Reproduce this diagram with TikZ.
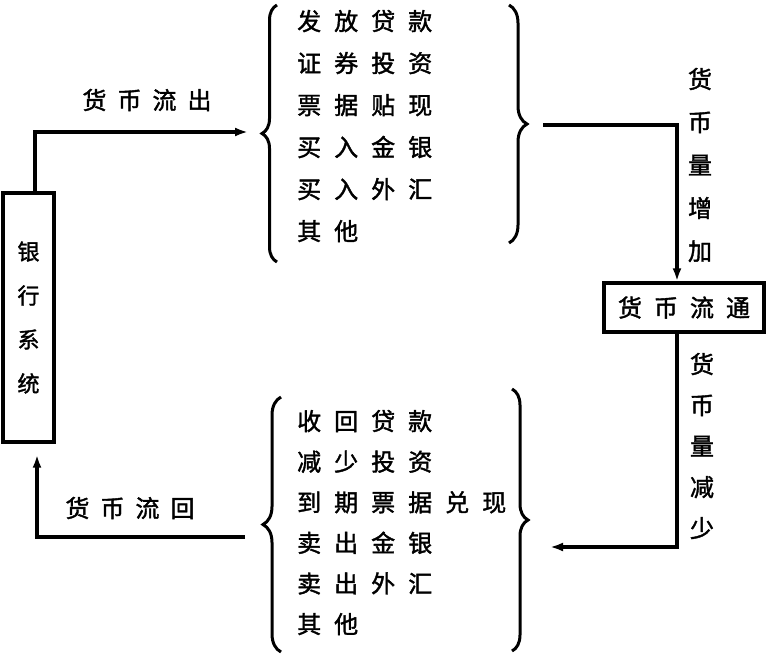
\documentclass[tikz,border=0pt]{standalone}
\usepackage{fontspec}
\newfontfamily\cjk[FakeBold=1.6]{Noto Sans CJK SC}
\usetikzlibrary{arrows.meta,decorations.pathreplacing}
\newcommand\cg{\hspace{13pt}}
\newcommand\cgl{\hspace{11pt}}
\newcommand\cgw{\hspace{12pt}}
\begin{document}
\begin{tikzpicture}[x=1pt,y=-1pt,
  arr/.style={line width=3.2pt, -{Latex[length=13pt,width=9pt]}},
  brc/.style={decorate,decoration={brace,amplitude=#1},line width=3pt},
  txt/.style={font=\cjk\fontsize{24}{42}\selectfont, inner sep=0pt, align=left},
  lab/.style={font=\cjk\fontsize{24}{28}\selectfont, inner sep=0pt},
  vlab/.style={font=\cjk\fontsize{24}{43}\selectfont, inner sep=0pt, align=center},
  box/.style={draw, line width=3.4pt, inner sep=0pt}]
\useasboundingbox (0,0) rectangle (767,654);

% boxes
\node[box, minimum width=51pt, minimum height=249pt, align=center,
      font=\cjk\fontsize{22}{44}\selectfont] (bank) at (28.5,317.5) {银\\行\\系\\统};
\node[box, minimum width=160pt, minimum height=49pt,
      font=\cjk\fontsize{24}{28}\selectfont] (flow) at (684,307.5) {货\cgw{}币\cgw{}流\cgw{}通};

% lists
\node[txt, anchor=west] (outlist) at (297,126) {发\cg{}放\cg{}贷\cg{}款\\证\cg{}券\cg{}投\cg{}资\\票\cg{}据\cg{}贴\cg{}现\\买\cg{}入\cg{}金\cg{}银\\买\cg{}入\cg{}外\cg{}汇\\其\cg{}他};
\node[txt, anchor=west, font=\cjk\fontsize{24}{40.6}\selectfont] (inlist) at (297,522.5) {收\cg{}回\cg{}贷\cg{}款\\减\cg{}少\cg{}投\cg{}资\\到\cg{}期\cg{}票\cg{}据\cg{}兑\cg{}现\\卖\cg{}出\cg{}金\cg{}银\\卖\cg{}出\cg{}外\cg{}汇\\其\cg{}他};

% braces
\draw[brc=15pt] (277,262) -- (277,5);
\draw[brc=18pt] (509,5) -- (509,243);
\draw[brc=18pt] (281,652) -- (281,397);
\draw[brc=16pt] (512,389) -- (512,651);

% labels
\node[lab] (outlab) at (147,100) {货\cgl{}币\cgl{}流\cgl{}出};
\node[lab] (inlab) at (130,508) {货\cgl{}币\cgl{}流\cgl{}回};
\node[vlab] (incr) at (700,165) {货\\币\\量\\增\\加};
\node[vlab, font=\cjk\fontsize{24}{41}\selectfont] (decr) at (702,446) {货\\币\\量\\减\\少};

% connectors
\coordinate (a1) at (248,132);
\draw[arr] ([xshift=6.5pt]bank.north) |- (a1);
\coordinate (b1) at (543,125);
\draw[arr] (b1) -| ([xshift=-7pt]flow.north);
\coordinate (c1) at (550,547);
\draw[arr] ([xshift=-7pt]flow.south) |- (c1);
\coordinate (d1) at (245,537);
\draw[arr, shorten >=11pt] (d1) -| ([xshift=8.5pt]bank.south);
\end{tikzpicture}
\end{document}
